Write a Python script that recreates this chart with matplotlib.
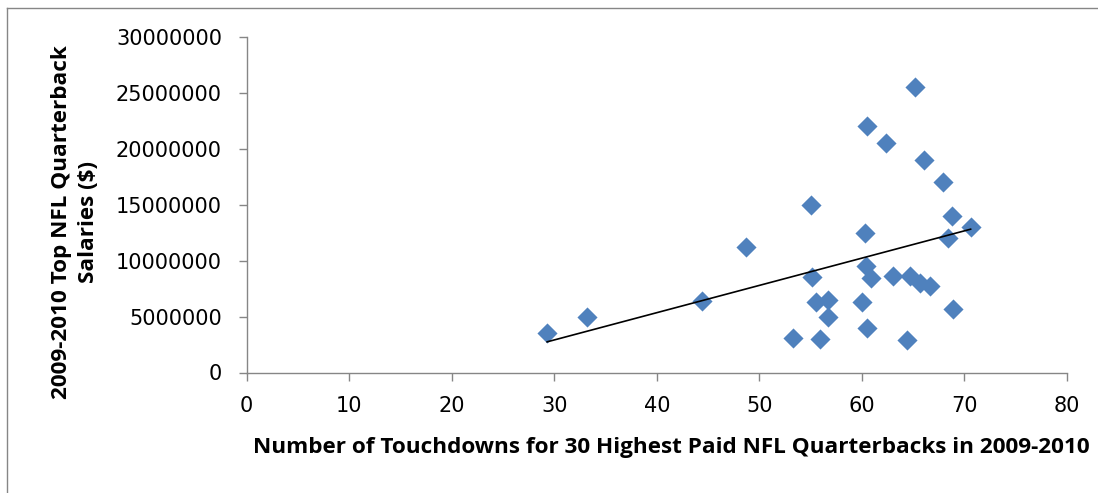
import numpy as np
import matplotlib
matplotlib.use("Agg")
import matplotlib.pyplot as plt
from matplotlib.lines import Line2D

# touchdowns and salaries of the 30 highest paid quarterbacks
touchdowns = [29.3, 33.2, 44.4, 48.7, 55.0, 60.5, 62.3, 65.2, 66.1, 67.9,
              68.8, 70.6, 68.4, 60.3, 60.4, 60.9, 55.1, 63.0, 64.7, 65.7,
              66.6, 55.5, 56.7, 60.0, 56.7, 68.9, 60.5, 53.3, 55.9, 64.4]
salaries = [3500000, 5000000, 6430000, 11250000, 15000000, 22000000, 20500000,
            25500000, 19000000, 17000000, 14000000, 13000000, 12000000, 12500000,
            9500000, 8450000, 8550000, 8630000, 8630000, 8030000, 7740000,
            6340000, 6520000, 6280000, 5000000, 5710000, 4020000, 3060000,
            3000000, 2880000]

x_ticks = [0, 10, 20, 30, 40, 50, 60, 70, 80]
y_ticks = [0, 5000000, 10000000, 15000000, 20000000, 25000000, 30000000]

W, H = 1098, 493
fig = plt.figure(figsize=(W / 100, H / 100), dpi=100)
ax = fig.add_axes([246.7 / W, 1 - 372.5 / H, (1067 - 246.7) / W, (372.5 - 36.7) / H])

grey = '#868686'
blue = '#4F81BD'

ax.scatter(touchdowns, salaries, marker='D', s=105, color=blue, linewidths=0, zorder=3)

# linear trendline, as Excel draws it
td = np.array(touchdowns)
sal = np.array(salaries)
slope, icpt = np.polyfit(td, sal, 1)
xs = np.array([td.min(), td.max()])
ax.plot(xs, slope * xs + icpt, color='black', lw=1.2, zorder=4)

ax.set_xlim(0, 80)
ax.set_ylim(0, 30000000)
ax.set_xticks(x_ticks)
ax.set_yticks(y_ticks)
ax.set_xticklabels([str(t) for t in x_ticks])
ax.set_yticklabels([str(t) for t in y_ticks])

for side in ['top', 'right']:
    ax.spines[side].set_visible(False)
for side in ['left', 'bottom']:
    ax.spines[side].set_color(grey)
    ax.spines[side].set_linewidth(1.0)

ax.tick_params(axis='both', direction='out', length=5.8, width=1.0, color=grey,
               labelsize=15, labelcolor='black')
ax.tick_params(axis='x', pad=11)
ax.tick_params(axis='y', pad=12)

lab_font = dict(family='Open Sans', weight='bold', size=16.2, color='black')
fig.text(671 / W, 1 - 447 / H,
         'Number of Touchdowns for 30 Highest Paid NFL Quarterbacks in 2009-2010',
         ha='center', va='center', **lab_font)
fig.text(75 / W, 1 - 222 / H,
         '2009-2010 Top NFL Quarterback\nSalaries ($)',
         ha='center', va='center', rotation=90, multialignment='center',
         linespacing=1.35, **lab_font)

# outer chart border (runs off the right and bottom of the picture)
fig.add_artist(Line2D([6.5 / W, 1.0], [1 - 7.5 / H, 1 - 7.5 / H],
                      transform=fig.transFigure, color=grey, lw=1.0))
fig.add_artist(Line2D([6.5 / W, 6.5 / W], [1 - 7.5 / H, 0.0],
                      transform=fig.transFigure, color=grey, lw=1.0))

fig.savefig('out.png', dpi=100)
